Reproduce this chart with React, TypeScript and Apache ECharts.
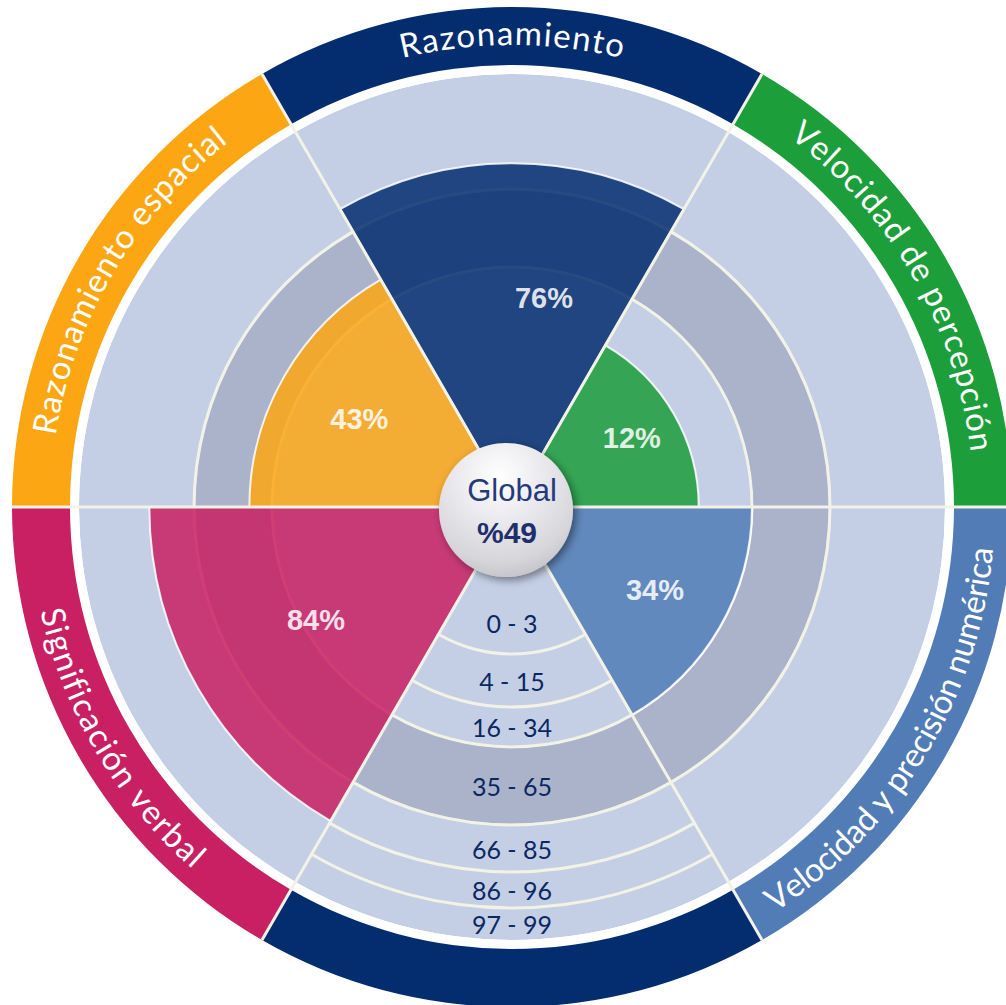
import React, { useEffect, useRef } from 'react';
import * as echarts from 'echarts';

// ---------------- data ----------------
const categories = ['razonamiento', 'percepcion', 'numerica', 'escala', 'verbal', 'espacial'];
const sectorLabels = [
  'Razonamiento',
  'Velocidad de percepción',
  'Velocidad y precisión numérica',
  '',
  'Significación verbal',
  'Razonamiento espacial',
];
const sectorColors = ['#032D6E', '#1C9E3B', '#517CB5', '#032D6E', '#C82062', '#FCA614'];
const scores: (number | null)[] = [76, 12, 34, null, 84, 43]; // percentiles
const scaleSectorIndex = 3;
const bandLabels = ['0 - 3', '4 - 15', '16 - 34', '35 - 65', '66 - 85', '86 - 96', '97 - 99'];
const bandUpper = [3, 15, 34, 65, 85, 96, 99];
const darkBandIndex = 3;
const globalTitle = 'Global';
const globalValue = '%49';

// ---------------- layout / style ----------------
const CX = 512;
const CY = 507;
const OUTER_R = 500;
const BAND_EDGES = [147, 200, 240, 318, 365, 401, 433]; // radius-axis position of each band's outer edge
const FIRST_BAND_INNER = 85;
const GAP_OUTER = 442;
const LINE_W = 3;
const LABEL_BASE = 90;
const LAV = '#C4CFE6';
const DARK = '#ABB3CB';
const CREAM = '#F3F2E6';
const NONE = 'rgba(0,0,0,0)';
const LABEL_FONT = 'Lato';
const NUM_FONT = '"Liberation Sans", Arial, sans-serif';
const ARC_FONT_SIZE = 33;
const ARC_R_TOP = 475;
const ARC_R_BOTTOM = 470;
const ARC_CENTER_DEG = [90, 30, -31, -90, 210.5, 149.5];
const ARC_SPAN_DEG = [27.4, 46.3, 52.2, 0, 36.2, 43.2];

function toRadius(p: number): number {
  let prevP = 0;
  let prevR = 0;
  for (let i = 0; i < bandUpper.length; i++) {
    if (p <= bandUpper[i]) {
      return prevR + ((p - prevP) / (bandUpper[i] - prevP)) * (BAND_EDGES[i] - prevR);
    }
    prevP = bandUpper[i];
    prevR = BAND_EDGES[i];
  }
  return BAND_EDGES[BAND_EDGES.length - 1];
}

function stackSeries(polarIndex: number, stack: string, len: number, colors: string[], z: number) {
  return {
    type: 'bar',
    coordinateSystem: 'polar',
    polarIndex,
    stack,
    barCategoryGap: '0%',
    silent: true,
    z,
    itemStyle: { borderWidth: 0 },
    emphasis: { disabled: true },
    data: categories.map((_, s) => ({ value: len, itemStyle: { color: colors[s] } })),
  };
}

let measureCtx: CanvasRenderingContext2D | null = null;
function measure(ch: string, font: string): number {
  if (!measureCtx) measureCtx = document.createElement('canvas').getContext('2d');
  measureCtx!.font = font;
  return measureCtx!.measureText(ch).width;
}

function arcText(text: string, centerDeg: number, spanDeg: number, topHalf: boolean) {
  const R = topHalf ? ARC_R_TOP : ARC_R_BOTTOM;
  const font = `${ARC_FONT_SIZE}px ${LABEL_FONT}`;
  const chars = Array.from(text);
  const widths = chars.map((c) => measure(c, font));
  const natural = widths.reduce((a, b) => a + b, 0);
  const target = (spanDeg * Math.PI * R) / 180;
  const spacing = (target - natural) / Math.max(1, chars.length - 1);
  const total = natural + spacing * (chars.length - 1);
  const span = total / R;
  const c = (centerDeg * Math.PI) / 180;
  let acc = 0;
  return chars.map((ch, k) => {
    const mid = acc + widths[k] / 2;
    acc += widths[k] + spacing;
    const off = mid / R - span / 2;
    const theta = topHalf ? c - off : c + off;
    return {
      type: 'text',
      x: CX + R * Math.cos(theta),
      y: CY - R * Math.sin(theta),
      rotation: topHalf ? theta - Math.PI / 2 : theta + Math.PI / 2,
      z: 100,
      silent: true,
      style: {
        text: ch,
        fill: '#ffffff',
        font,
        align: 'center',
        verticalAlign: 'middle',
        textAlign: 'center',
        textVerticalAlign: 'middle',
      },
    };
  });
}

function buildOption() {
  const polar = [0, 1, 2].map(() => ({ center: [CX, CY], radius: [0, OUTER_R] }));
  const angleAxis = [0, 1, 2].map((i) => ({
    polarIndex: i,
    type: 'category',
    data: categories,
    startAngle: 120,
    clockwise: true,
    z: i === 2 ? 6 : 0,
    axisLine: { show: false },
    axisTick: { show: false, interval: 0 },
    axisLabel: { show: false, interval: 0 },
    splitLine: { show: i === 2, interval: 0, lineStyle: { color: CREAM, width: 3 } },
  }));
  const radiusAxis = [0, 1, 2].map((i) => ({
    polarIndex: i,
    type: 'value',
    min: 0,
    max: OUTER_R,
    axisLine: { show: false },
    axisTick: { show: false },
    axisLabel: { show: false },
    splitLine: { show: false },
  }));

  const series: any[] = [];
  // base rings
  const lastEdge = BAND_EDGES[BAND_EDGES.length - 1];
  series.push(stackSeries(0, 'base', lastEdge, categories.map(() => LAV), 1));
  series.push(stackSeries(0, 'base', GAP_OUTER - lastEdge, categories.map(() => '#ffffff'), 1));
  series.push(stackSeries(0, 'base', OUTER_R - GAP_OUTER, sectorColors, 1));

  // overlay: dark band + ring lines
  let prev = 0;
  for (let i = 0; i < BAND_EDGES.length - 1; i++) {
    const edge = BAND_EDGES[i];
    const fill = i === darkBandIndex ? DARK : NONE;
    series.push(stackSeries(1, 'ov', edge - LINE_W / 2 - prev, categories.map(() => fill), 2));
    const always = i === darkBandIndex - 1 || i === darkBandIndex;
    series.push(
      stackSeries(
        1,
        'ov',
        LINE_W,
        categories.map((_, s) => (always || s === scaleSectorIndex ? CREAM : NONE)),
        2
      )
    );
    prev = edge + LINE_W / 2;
  }

  // scale labels in the bottom sector
  series.push({
    type: 'scatter',
    coordinateSystem: 'polar',
    polarIndex: 1,
    symbolSize: 1,
    silent: true,
    z: 7,
    itemStyle: { color: NONE, opacity: 1 },
    label: {
      show: true,
      position: 'inside',
      formatter: '{b}',
      fontFamily: LABEL_FONT,
      fontSize: 25,
      color: '#0A2762',
      opacity: 1,
    },
    data: bandLabels.map((lab, i) => ({
      name: lab,
      value: [((i === 0 ? FIRST_BAND_INNER : BAND_EDGES[i - 1]) + BAND_EDGES[i]) / 2, scaleSectorIndex],
    })),
  });

  // data bars
  series.push({
    type: 'bar',
    coordinateSystem: 'polar',
    polarIndex: 2,
    barCategoryGap: '0%',
    silent: true,
    z: 3,
    emphasis: { disabled: true },
    itemStyle: { opacity: 0.85, borderColor: '#ffffff', borderWidth: 2 },
    data: scores.map((p, i) =>
      p == null ? '-' : { value: toRadius(p), itemStyle: { color: sectorColors[i] } }
    ),
  });

  // percent labels
  series.push({
    type: 'scatter',
    coordinateSystem: 'polar',
    polarIndex: 2,
    symbolSize: 1,
    silent: true,
    z: 8,
    itemStyle: { color: NONE, opacity: 1 },
    label: {
      show: true,
      position: 'inside',
      formatter: '{b}',
      fontFamily: NUM_FONT,
      fontWeight: 'bold',
      fontSize: 29,
      color: 'rgba(255,255,255,0.86)',
      opacity: 1,
    },
    data: scores
      .map((p, i) =>
        p == null
          ? null
          : {
              name: `${p}%`,
              value: [(toRadius(p) + LABEL_BASE) / 2, i],
              label: i === 0 ? { offset: [32, 8] } : undefined,
            }
      )
      .filter((d) => d != null),
  });

  // graphics: curved sector titles + globe
  const graphic: any[] = [];
  sectorLabels.forEach((lab, i) => {
    if (!lab) return;
    const d = ARC_CENTER_DEG[i];
    const top = Math.sin((d * Math.PI) / 180) > 0;
    graphic.push(...arcText(lab, d, ARC_SPAN_DEG[i], top));
  });
  graphic.push({
    type: 'circle',
    z: 100,
    silent: true,
    shape: { cx: 506, cy: 510, r: 67 },
    style: {
      fill: {
        type: 'radial',
        x: 0.45,
        y: 0.25,
        r: 0.85,
        colorStops: [
          { offset: 0, color: '#ffffff' },
          { offset: 0.35, color: '#ececf0' },
          { offset: 0.75, color: '#d5d5da' },
          { offset: 1, color: '#b9b9bf' },
        ],
      },
      shadowBlur: 8,
      shadowOffsetX: 3,
      shadowOffsetY: 3,
      shadowColor: 'rgba(0,0,0,0.45)',
    },
  });
  graphic.push({
    type: 'text',
    z: 101,
    silent: true,
    x: 512,
    y: 490,
    style: {
      text: globalTitle,
      fill: '#253A7D',
      font: `31px ${NUM_FONT}`,
      align: 'center',
      verticalAlign: 'middle',
      textAlign: 'center',
      textVerticalAlign: 'middle',
    },
  });
  graphic.push({
    type: 'text',
    z: 101,
    silent: true,
    x: 507,
    y: 532,
    style: {
      text: globalValue,
      fill: '#1F2E6C',
      font: `bold 30px ${NUM_FONT}`,
      align: 'center',
      verticalAlign: 'middle',
      textAlign: 'center',
      textVerticalAlign: 'middle',
    },
  });

  return {
    animation: false,
    backgroundColor: '#ffffff',
    polar,
    angleAxis,
    radiusAxis,
    series,
    graphic,
  };
}

export default function App() {
  const ref = useRef<HTMLDivElement>(null);
  useEffect(() => {
    if (!ref.current) return;
    const chart = echarts.init(ref.current, null, { renderer: 'svg' });
    chart.setOption(buildOption() as any);
    return () => chart.dispose();
  }, []);
  return (
    <div
      ref={ref}
      style={{ position: 'absolute', left: 0, top: 0, width: 1006, height: 1005 }}
    />
  );
}
